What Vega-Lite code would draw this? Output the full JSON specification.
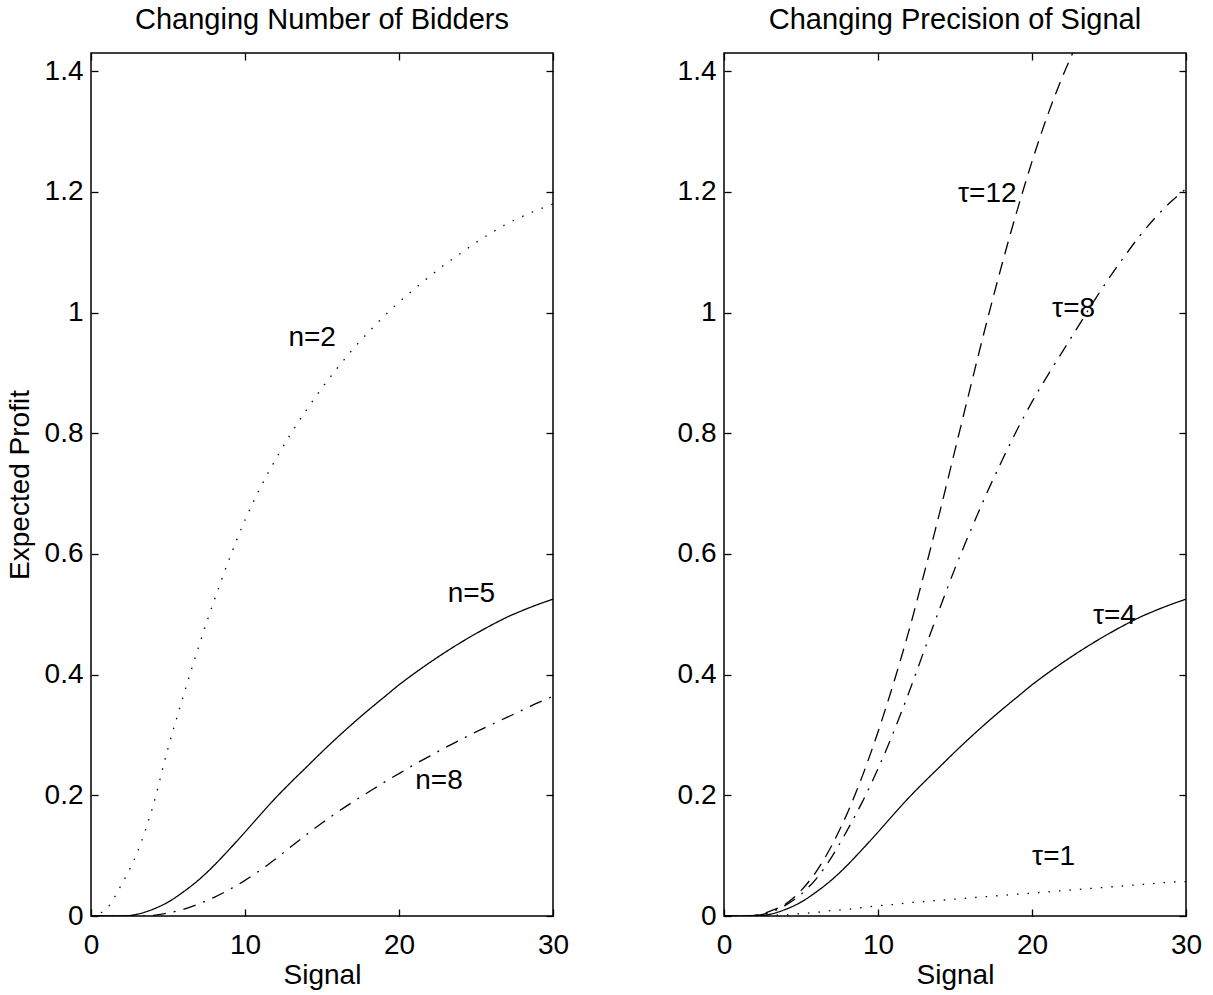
{
  "$schema": "https://vega.github.io/schema/vega-lite/v6.json",
  "autosize": {"type": "pad"},
  "padding": {"left": 5, "top": 5, "right": 26, "bottom": 5},
  "background": "white",
  "spacing": 171,
  "bounds": "flush",
  "resolve": {"scale": {"strokeDash": "independent"}},
  "config": {
    "font": "Liberation Sans",
    "view": {"stroke": "black", "strokeWidth": 1.5},
    "axis": {
      "labelFont": "Liberation Sans", "labelFontSize": 28, "labelColor": "black",
      "titleFont": "Liberation Sans", "titleFontSize": 28, "titleFontWeight": "normal", "titleColor": "black",
      "tickColor": "black", "tickSize": -7, "tickWidth": 1.3, "domain": false, "grid": false,
      "labelFlush": false, "labelOverlap": false
    },
    "title": {"font": "Liberation Sans", "fontSize": 29, "fontWeight": "normal", "color": "black", "offset": 17}
  },
  "datasets": {
    "left": [
      {"s":"n=2","x":0,"y":0},{"s":"n=2","x":1,"y":0.012},{"s":"n=2","x":2,"y":0.053},{"s":"n=2","x":3,"y":0.105},{"s":"n=2","x":4,"y":0.18},{"s":"n=2","x":5,"y":0.278},{"s":"n=2","x":6,"y":0.365},{"s":"n=2","x":7,"y":0.447},{"s":"n=2","x":8,"y":0.523},{"s":"n=2","x":9,"y":0.593},{"s":"n=2","x":10,"y":0.656},{"s":"n=2","x":11,"y":0.71},{"s":"n=2","x":12,"y":0.757},{"s":"n=2","x":13,"y":0.8},{"s":"n=2","x":14,"y":0.839},{"s":"n=2","x":15,"y":0.875},{"s":"n=2","x":16,"y":0.908},{"s":"n=2","x":17,"y":0.939},{"s":"n=2","x":18,"y":0.967},{"s":"n=2","x":19,"y":0.993},{"s":"n=2","x":20,"y":1.017},{"s":"n=2","x":21,"y":1.039},{"s":"n=2","x":22,"y":1.06},{"s":"n=2","x":23,"y":1.08},{"s":"n=2","x":24,"y":1.098},{"s":"n=2","x":25,"y":1.116},{"s":"n=2","x":26,"y":1.132},{"s":"n=2","x":27,"y":1.147},{"s":"n=2","x":28,"y":1.159},{"s":"n=2","x":29,"y":1.17},{"s":"n=2","x":30,"y":1.18},
      {"s":"n=5","x":0,"y":0},{"s":"n=5","x":1,"y":0},{"s":"n=5","x":2,"y":0},{"s":"n=5","x":3,"y":0.003},{"s":"n=5","x":4,"y":0.011},{"s":"n=5","x":5,"y":0.023},{"s":"n=5","x":6,"y":0.04},{"s":"n=5","x":7,"y":0.06},{"s":"n=5","x":8,"y":0.084},{"s":"n=5","x":9,"y":0.111},{"s":"n=5","x":10,"y":0.139},{"s":"n=5","x":11,"y":0.168},{"s":"n=5","x":12,"y":0.196},{"s":"n=5","x":13,"y":0.222},{"s":"n=5","x":14,"y":0.247},{"s":"n=5","x":15,"y":0.272},{"s":"n=5","x":16,"y":0.296},{"s":"n=5","x":17,"y":0.319},{"s":"n=5","x":18,"y":0.341},{"s":"n=5","x":19,"y":0.362},{"s":"n=5","x":20,"y":0.383},{"s":"n=5","x":21,"y":0.402},{"s":"n=5","x":22,"y":0.42},{"s":"n=5","x":23,"y":0.437},{"s":"n=5","x":24,"y":0.453},{"s":"n=5","x":25,"y":0.468},{"s":"n=5","x":26,"y":0.482},{"s":"n=5","x":27,"y":0.495},{"s":"n=5","x":28,"y":0.506},{"s":"n=5","x":29,"y":0.516},{"s":"n=5","x":30,"y":0.525},
      {"s":"n=8","x":0,"y":0},{"s":"n=8","x":1,"y":0},{"s":"n=8","x":2,"y":0},{"s":"n=8","x":3,"y":0},{"s":"n=8","x":4,"y":0.001},{"s":"n=8","x":5,"y":0.005},{"s":"n=8","x":6,"y":0.011},{"s":"n=8","x":7,"y":0.02},{"s":"n=8","x":8,"y":0.031},{"s":"n=8","x":9,"y":0.044},{"s":"n=8","x":10,"y":0.059},{"s":"n=8","x":11,"y":0.076},{"s":"n=8","x":12,"y":0.095},{"s":"n=8","x":13,"y":0.115},{"s":"n=8","x":14,"y":0.135},{"s":"n=8","x":15,"y":0.154},{"s":"n=8","x":16,"y":0.172},{"s":"n=8","x":17,"y":0.189},{"s":"n=8","x":18,"y":0.205},{"s":"n=8","x":19,"y":0.221},{"s":"n=8","x":20,"y":0.236},{"s":"n=8","x":21,"y":0.251},{"s":"n=8","x":22,"y":0.265},{"s":"n=8","x":23,"y":0.279},{"s":"n=8","x":24,"y":0.292},{"s":"n=8","x":25,"y":0.305},{"s":"n=8","x":26,"y":0.317},{"s":"n=8","x":27,"y":0.329},{"s":"n=8","x":28,"y":0.341},{"s":"n=8","x":29,"y":0.353},{"s":"n=8","x":30,"y":0.364}
    ],
    "right": [
      {"s":"τ=12","x":0,"y":0},{"s":"τ=12","x":1,"y":0},{"s":"τ=12","x":2,"y":0.001},{"s":"τ=12","x":3,"y":0.008},{"s":"τ=12","x":4,"y":0.02},{"s":"τ=12","x":5,"y":0.042},{"s":"τ=12","x":6,"y":0.074},{"s":"τ=12","x":7,"y":0.117},{"s":"τ=12","x":8,"y":0.17},{"s":"τ=12","x":9,"y":0.233},{"s":"τ=12","x":10,"y":0.305},{"s":"τ=12","x":11,"y":0.385},{"s":"τ=12","x":12,"y":0.472},{"s":"τ=12","x":13,"y":0.568},{"s":"τ=12","x":14,"y":0.668},{"s":"τ=12","x":15,"y":0.772},{"s":"τ=12","x":16,"y":0.876},{"s":"τ=12","x":17,"y":0.978},{"s":"τ=12","x":18,"y":1.075},{"s":"τ=12","x":19,"y":1.166},{"s":"τ=12","x":20,"y":1.25},{"s":"τ=12","x":21,"y":1.326},{"s":"τ=12","x":22,"y":1.392},{"s":"τ=12","x":23,"y":1.45},
      {"s":"τ=8","x":0,"y":0},{"s":"τ=8","x":1,"y":0},{"s":"τ=8","x":2,"y":0.001},{"s":"τ=8","x":3,"y":0.006},{"s":"τ=8","x":4,"y":0.018},{"s":"τ=8","x":5,"y":0.036},{"s":"τ=8","x":6,"y":0.062},{"s":"τ=8","x":7,"y":0.098},{"s":"τ=8","x":8,"y":0.142},{"s":"τ=8","x":9,"y":0.19},{"s":"τ=8","x":10,"y":0.244},{"s":"τ=8","x":11,"y":0.304},{"s":"τ=8","x":12,"y":0.37},{"s":"τ=8","x":13,"y":0.44},{"s":"τ=8","x":14,"y":0.509},{"s":"τ=8","x":15,"y":0.576},{"s":"τ=8","x":16,"y":0.638},{"s":"τ=8","x":17,"y":0.697},{"s":"τ=8","x":18,"y":0.752},{"s":"τ=8","x":19,"y":0.804},{"s":"τ=8","x":20,"y":0.852},{"s":"τ=8","x":21,"y":0.895},{"s":"τ=8","x":22,"y":0.936},{"s":"τ=8","x":23,"y":0.977},{"s":"τ=8","x":24,"y":1.018},{"s":"τ=8","x":25,"y":1.057},{"s":"τ=8","x":26,"y":1.093},{"s":"τ=8","x":27,"y":1.127},{"s":"τ=8","x":28,"y":1.157},{"s":"τ=8","x":29,"y":1.183},{"s":"τ=8","x":30,"y":1.205},
      {"s":"τ=4","x":0,"y":0},{"s":"τ=4","x":1,"y":0},{"s":"τ=4","x":2,"y":0},{"s":"τ=4","x":3,"y":0.003},{"s":"τ=4","x":4,"y":0.011},{"s":"τ=4","x":5,"y":0.023},{"s":"τ=4","x":6,"y":0.04},{"s":"τ=4","x":7,"y":0.06},{"s":"τ=4","x":8,"y":0.084},{"s":"τ=4","x":9,"y":0.111},{"s":"τ=4","x":10,"y":0.139},{"s":"τ=4","x":11,"y":0.168},{"s":"τ=4","x":12,"y":0.196},{"s":"τ=4","x":13,"y":0.222},{"s":"τ=4","x":14,"y":0.247},{"s":"τ=4","x":15,"y":0.272},{"s":"τ=4","x":16,"y":0.296},{"s":"τ=4","x":17,"y":0.319},{"s":"τ=4","x":18,"y":0.341},{"s":"τ=4","x":19,"y":0.362},{"s":"τ=4","x":20,"y":0.383},{"s":"τ=4","x":21,"y":0.402},{"s":"τ=4","x":22,"y":0.42},{"s":"τ=4","x":23,"y":0.437},{"s":"τ=4","x":24,"y":0.453},{"s":"τ=4","x":25,"y":0.468},{"s":"τ=4","x":26,"y":0.482},{"s":"τ=4","x":27,"y":0.495},{"s":"τ=4","x":28,"y":0.506},{"s":"τ=4","x":29,"y":0.516},{"s":"τ=4","x":30,"y":0.525},
      {"s":"τ=1","x":0,"y":0},{"s":"τ=1","x":1,"y":0},{"s":"τ=1","x":2,"y":0},{"s":"τ=1","x":3,"y":0.001},{"s":"τ=1","x":4,"y":0.002},{"s":"τ=1","x":5,"y":0.004},{"s":"τ=1","x":6,"y":0.006},{"s":"τ=1","x":7,"y":0.009},{"s":"τ=1","x":8,"y":0.011},{"s":"τ=1","x":9,"y":0.014},{"s":"τ=1","x":10,"y":0.017},{"s":"τ=1","x":11,"y":0.019},{"s":"τ=1","x":12,"y":0.022},{"s":"τ=1","x":13,"y":0.024},{"s":"τ=1","x":14,"y":0.026},{"s":"τ=1","x":15,"y":0.028},{"s":"τ=1","x":16,"y":0.03},{"s":"τ=1","x":17,"y":0.032},{"s":"τ=1","x":18,"y":0.034},{"s":"τ=1","x":19,"y":0.036},{"s":"τ=1","x":20,"y":0.038},{"s":"τ=1","x":21,"y":0.04},{"s":"τ=1","x":22,"y":0.042},{"s":"τ=1","x":23,"y":0.044},{"s":"τ=1","x":24,"y":0.046},{"s":"τ=1","x":25,"y":0.048},{"s":"τ=1","x":26,"y":0.05},{"s":"τ=1","x":27,"y":0.052},{"s":"τ=1","x":28,"y":0.054},{"s":"τ=1","x":29,"y":0.056},{"s":"τ=1","x":30,"y":0.057}
    ],
    "leftLabels": [
      {"label":"n=2","x":14.36,"y":0.957},
      {"label":"n=5","x":24.7,"y":0.534},
      {"label":"n=8","x":22.6,"y":0.224}
    ],
    "rightLabels": [
      {"label":"τ=12","x":17.1,"y":1.197},
      {"label":"τ=8","x":22.7,"y":1.005},
      {"label":"τ=4","x":25.35,"y":0.497},
      {"label":"τ=1","x":21.4,"y":0.097}
    ]
  },
  "hconcat": [
    {
      "width": 462, "height": 863,
      "title": {"text": "Changing Number of Bidders"},
      "resolve": {"axis": {"x": "independent", "y": "independent"}},
      "layer": [
        {
          "data": {"name": "left"},
          "mark": {"type": "line", "color": "black", "strokeWidth": 1.3, "clip": true, "interpolate": "monotone"},
          "encoding": {
            "x": {"field": "x", "type": "quantitative", "scale": {"domain": [0, 30], "nice": false, "zero": false}, "axis": {"orient": "bottom", "values": [0, 10, 20, 30], "title": "Signal", "labelPadding": 22, "titlePadding": 2}},
            "y": {"field": "y", "type": "quantitative", "scale": {"domain": [0, 1.43], "nice": false}, "axis": {"orient": "left", "values": [0, 0.2, 0.4, 0.6, 0.8, 1, 1.2, 1.4], "format": "~g", "title": "Expected Profit", "labelPadding": 15, "titlePadding": 10}},
            "detail": {"field": "s", "type": "nominal"},
            "strokeDash": {"field": "s", "type": "nominal", "legend": null, "scale": {"domain": ["n=2", "n=5", "n=8"], "range": [[1.5, 9], [1, 0], [13, 8, 2, 8]]}}
          }
        },
        {
          "data": {"name": "leftLabels"},
          "mark": {"type": "text", "font": "Liberation Sans", "fontSize": 28, "color": "black", "align": "center", "baseline": "middle"},
          "encoding": {
            "x": {"field": "x", "type": "quantitative", "axis": {"orient": "top", "values": [0, 10, 20, 30], "labels": false, "title": null}},
            "y": {"field": "y", "type": "quantitative", "axis": {"orient": "right", "values": [0, 0.2, 0.4, 0.6, 0.8, 1, 1.2, 1.4], "labels": false, "title": null}},
            "text": {"field": "label", "type": "nominal"}
          }
        }
      ]
    },
    {
      "width": 462, "height": 863,
      "title": {"text": "Changing Precision of Signal"},
      "resolve": {"axis": {"x": "independent", "y": "independent"}},
      "layer": [
        {
          "data": {"name": "right"},
          "mark": {"type": "line", "color": "black", "strokeWidth": 1.3, "clip": true, "interpolate": "monotone"},
          "encoding": {
            "x": {"field": "x", "type": "quantitative", "scale": {"domain": [0, 30], "nice": false, "zero": false}, "axis": {"orient": "bottom", "values": [0, 10, 20, 30], "title": "Signal", "labelPadding": 22, "titlePadding": 2}},
            "y": {"field": "y", "type": "quantitative", "scale": {"domain": [0, 1.43], "nice": false}, "axis": {"orient": "left", "values": [0, 0.2, 0.4, 0.6, 0.8, 1, 1.2, 1.4], "format": "~g", "title": null, "labelPadding": 15}},
            "detail": {"field": "s", "type": "nominal"},
            "strokeDash": {"field": "s", "type": "nominal", "legend": null, "scale": {"domain": ["τ=12", "τ=8", "τ=4", "τ=1"], "range": [[13, 8], [13, 8, 2, 8], [1, 0], [1.5, 9]]}}
          }
        },
        {
          "data": {"name": "rightLabels"},
          "mark": {"type": "text", "font": "Liberation Sans", "fontSize": 28, "color": "black", "align": "center", "baseline": "middle"},
          "encoding": {
            "x": {"field": "x", "type": "quantitative", "axis": {"orient": "top", "values": [0, 10, 20, 30], "labels": false, "title": null}},
            "y": {"field": "y", "type": "quantitative", "axis": {"orient": "right", "values": [0, 0.2, 0.4, 0.6, 0.8, 1, 1.2, 1.4], "labels": false, "title": null}},
            "text": {"field": "label", "type": "nominal"}
          }
        }
      ]
    }
  ]
}
